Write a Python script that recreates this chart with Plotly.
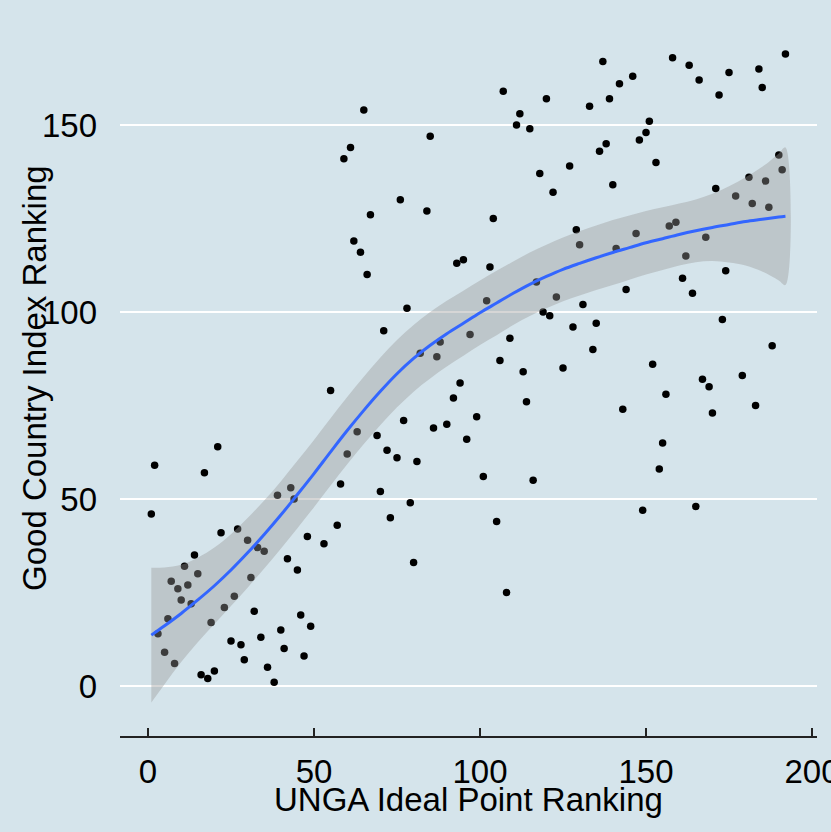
import plotly.graph_objects as go

# ---- data ----
unga_rank = [1, 2, 3, 5, 6, 7, 8, 9, 10, 11, 12, 13, 14, 15, 16, 17, 18, 19, 20, 21,
             22, 23, 25, 26, 27, 28, 29, 30, 31, 32, 33, 34, 35, 36, 38, 39, 40, 41, 42, 43,
             44, 45, 46, 47, 48, 49, 53,
             55, 57, 58, 59, 60, 61, 62, 63, 64, 65, 66, 67, 69, 70, 71, 72, 73, 75, 76, 77,
             78, 79, 80, 81, 82, 84, 85, 86, 87, 88, 90, 92, 93, 94, 95, 96,
             97, 99, 101, 102, 103, 104, 105, 106, 107, 108, 109, 111, 112, 113, 114, 115,
             116, 117, 118, 119, 120, 121, 122, 123, 125, 127, 128, 129, 130, 131, 133, 134,
             135, 136, 137, 138, 139, 140, 141, 142, 143, 144,
             146, 147, 148, 149, 150, 151, 152, 153, 154, 155, 156, 157, 158, 159, 161, 162,
             163, 164, 165, 166, 167, 168, 169, 170, 171, 172, 173, 174, 175, 177, 179, 181,
             182, 183, 184, 185, 186, 187, 188, 190, 191, 192]
gci_rank = [46, 59, 14, 9, 18, 28, 6, 26, 23, 32, 27, 22, 35, 30, 3, 57, 2, 17, 4, 64,
            41, 21, 12, 24, 42, 11, 7, 39, 29, 20, 37, 13, 36, 5, 1, 51, 15, 10, 34, 53,
            50, 31, 19, 8, 40, 16, 38,
            79, 43, 54, 141, 62, 144, 119, 68, 116, 154, 110, 126, 67, 52, 95, 63, 45, 61, 130, 71,
            101, 49, 33, 60, 89, 127, 147, 69, 88, 92, 70, 77, 113, 81, 114, 66,
            94, 72, 56, 103, 112, 125, 44, 87, 159, 25, 93, 150, 153, 84, 76, 149,
            55, 108, 137, 100, 157, 99, 132, 104, 85, 139, 96, 122, 118, 102, 155, 90,
            97, 143, 167, 145, 157, 134, 117, 161, 74, 106,
            163, 121, 146, 47, 148, 151, 86, 140, 58, 65, 78, 123, 168, 124, 109, 115,
            166, 105, 48, 162, 82, 120, 80, 73, 133, 158, 98, 111, 164, 131, 83, 136,
            129, 75, 165, 160, 135, 128, 91, 142, 138, 169]

# loess smoother (fit and 95% band)
smooth_x = [1, 5, 10, 15, 20, 25, 30, 35, 40, 45, 50, 55, 60, 65, 70, 75, 80, 85, 90,
            95, 100, 105, 110, 115, 120, 125, 130, 135, 140, 145, 150, 155, 160, 165,
            170, 175, 180, 185, 190, 192]
smooth_fit = [13.6, 16.1, 19.4, 23.0, 26.8, 31.0, 35.6, 40.5, 45.7, 51.2, 56.8, 62.6,
              68.3, 73.7, 78.8, 83.5, 87.6, 91.1, 94.2, 97.0, 99.8, 102.4, 105.0, 107.4,
              109.5, 111.4, 113.0, 114.5, 115.9, 117.2, 118.5, 119.6, 120.7, 121.7,
              122.6, 123.4, 124.2, 124.8, 125.4, 125.6]
smooth_upper = [31.6, 31.7, 32.4, 34.3, 37.0, 40.6, 44.9, 49.6, 54.7, 60.2, 65.8, 71.6,
                77.3, 82.7, 87.8, 92.5, 96.5, 100.0, 103.0, 105.7, 108.4, 111.0, 113.5,
                115.9, 118.0, 119.9, 121.6, 123.1, 124.6, 125.8, 127.0, 128.0, 129.0,
                130.1, 131.6, 133.6, 136.0, 138.8, 142.4, 144.0]
smooth_lower = [-4.4, 0.5, 6.4, 11.7, 16.6, 21.4, 26.3, 31.4, 36.7, 42.2, 47.8, 53.6,
                59.3, 64.7, 69.8, 74.5, 78.7, 82.2, 85.4, 88.3, 91.2, 93.8, 96.5, 98.9,
                101.0, 102.9, 104.4, 105.9, 107.2, 108.6, 110.0, 111.2, 112.4, 113.3,
                113.6, 113.2, 112.4, 110.8, 108.4, 107.2]

x_ticks = [0, 50, 100, 150, 200]
y_ticks = [0, 50, 100, 150]
x_title = "UNGA Ideal Point Ranking"
y_title = "Good Country Index Ranking"

BG = "#d5e4eb"
FONT = "Liberation Sans, Arial, sans-serif"

fig = go.Figure()

fig.add_trace(go.Scatter(
    x=unga_rank, y=gci_rank, mode="markers",
    marker=dict(color="black", size=7.5, line=dict(width=0)),
    hoverinfo="skip", showlegend=False))

fig.add_trace(go.Scatter(
    x=smooth_x + smooth_x[::-1], y=smooth_upper + smooth_lower[::-1],
    mode="lines", fill="toself", fillcolor="rgba(153,153,153,0.4)",
    line=dict(width=0, shape="spline"), hoverinfo="skip", showlegend=False))

fig.add_trace(go.Scatter(
    x=smooth_x, y=smooth_fit, mode="lines",
    line=dict(color="#3366FF", width=3, shape="spline"),
    hoverinfo="skip", showlegend=False))

fig.update_layout(
    width=831, height=832,
    margin=dict(l=120, r=14, t=20, b=96, pad=0, autoexpand=False),
    paper_bgcolor=BG, plot_bgcolor=BG,
    font=dict(family=FONT, color="black"),
    showlegend=False,
    xaxis=dict(
        range=[-8.43, 201.5], tickmode="array", tickvals=x_ticks,
        ticks="inside", ticklen=8, tickwidth=1.3, tickcolor="#222222",
        showline=True, linecolor="#222222", linewidth=1.5,
        showgrid=False, zeroline=False, automargin=False,
        tickfont=dict(size=33, family=FONT, color="black"),
        ticklabelstandoff=6, ticklabeloverflow="allow",
    ),
    yaxis=dict(
        range=[-13.37, 178.07], tickmode="array", tickvals=y_ticks,
        ticks="", showline=False, zeroline=False, automargin=False,
        showgrid=True, gridcolor="white", gridwidth=2.6,
        tickfont=dict(size=33, family=FONT, color="black"),
        ticklabelstandoff=22, ticklabeloverflow="allow",
    ),
    annotations=[
        dict(text=x_title, xref="paper", yref="paper", x=0.5, y=-0.089,
             xanchor="center", yanchor="middle", showarrow=False,
             font=dict(size=33, family=FONT, color="black")),
        dict(text=y_title, xref="paper", yref="paper", x=-0.1234, y=0.5,
             xanchor="center", yanchor="middle", textangle=-90, showarrow=False,
             font=dict(size=33, family=FONT, color="black")),
    ],
)

fig.write_html(
    "out.html",
    config={"displayModeBar": False, "staticPlot": True},
    post_script="document.body.style.margin='0';document.body.style.padding='0';"
                "document.body.style.overflow='hidden';",
)
